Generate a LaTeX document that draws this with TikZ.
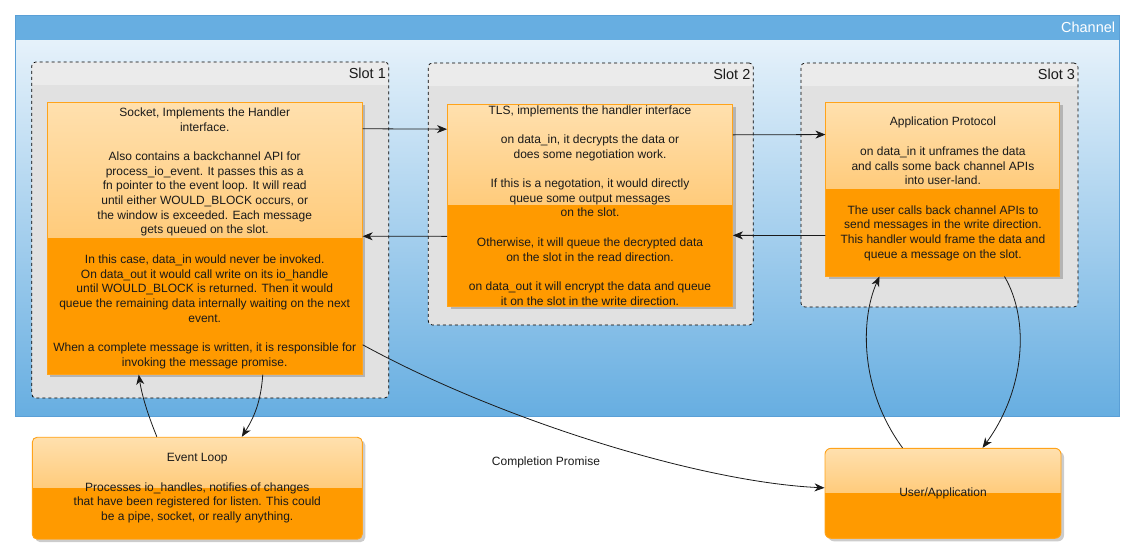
\documentclass[tikz,border=0pt]{standalone}
\usepackage{fontspec}
\setmainfont{Liberation Sans}
\usetikzlibrary{calc,arrows.meta,shadows}

\definecolor{chhead}{HTML}{67AEE1}
\definecolor{chtop}{HTML}{EEF6FC}
\definecolor{chedge}{HTML}{5A9FD6}
\definecolor{slothead}{HTML}{EBEBEB}
\definecolor{slotbody}{HTML}{E1E1E1}
\definecolor{ortop}{HTML}{FFE0AE}
\definecolor{ormid}{HTML}{FFB648}
\definecolor{orbot}{HTML}{FF9A00}
\definecolor{oredge}{HTML}{FFA31A}
\definecolor{ink}{HTML}{1A1A1A}

\tikzset{
  bodytext/.style={font=\fontsize{12}{14.7}\selectfont, text=ink},
  % glass-style orange handler box: gradient upper half, solid lower half
  handler/.style={draw=oredge, line width=0.9pt, inner sep=0pt, align=center, bodytext,
    drop shadow={shadow xshift=3pt, shadow yshift=-3pt, fill=black, opacity=0.2},
    path picture={
      \fill[sharp corners, top color=ortop, bottom color=ormid]
        (path picture bounding box.north west) rectangle (path picture bounding box.east);
      \fill[sharp corners, orbot]
        (path picture bounding box.west) rectangle (path picture bounding box.south east);
    }},
  slotbox/.style={draw=black, dashed, line width=0.7pt, rounded corners=4pt, inner sep=0pt,
    fill=slotbody,
    path picture={
      \fill[sharp corners, slothead] (path picture bounding box.north west)
        rectangle ([yshift=-23pt]path picture bounding box.north east);
    }},
  chanbox/.style={draw=chedge, line width=0.7pt, inner sep=0pt,
    path picture={
      \fill[top color=chtop, bottom color=chhead]
        ([yshift=-25pt]path picture bounding box.north west)
        rectangle (path picture bounding box.south east);
      \fill[chhead] (path picture bounding box.north west)
        rectangle ([yshift=-25pt]path picture bounding box.north east);
    }},
  grouplabel/.style={font=\fontsize{14.5}{16}\selectfont, inner sep=0pt, anchor=east},
  conn/.style={draw=ink, line width=0.8pt, -{Stealth[length=10pt,width=8pt,inset=3pt]}},
}

\begin{document}
\begin{tikzpicture}[x=1pt, y=-1pt]
\useasboundingbox (0,0) rectangle (1134,555);

% channel container
\node[chanbox, minimum width=1104pt, minimum height=401pt] (chan) at (567,215.5) {};
\node[grouplabel, text=white] (chanlab) at ($(chan.north east)+(-4,13)$) {Channel};

% slots
\node[slotbox, minimum width=357pt, minimum height=336pt] (slot1) at (210.2,230) {};
\node[grouplabel, text=ink] (slot1lab) at ($(slot1.north east)+(-3,12)$) {Slot 1};
\node[slotbox, minimum width=325pt, minimum height=262pt] (slot2) at (590.7,194) {};
\node[grouplabel, text=ink] (slot2lab) at ($(slot2.north east)+(-3,12)$) {Slot 2};
\node[slotbox, minimum width=277pt, minimum height=244pt] (slot3) at (939.4,185) {};
\node[grouplabel, text=ink] (slot3lab) at ($(slot3.north east)+(-3,12)$) {Slot 3};

% handlers
\node[handler, minimum width=315pt, minimum height=272pt] (sock) at (204.7,238.2) {%
Socket, Implements the Handler\\
interface.\\[14.7pt]
Also contains a backchannel API for\\
process\_io\_event. It passes this as a\\
fn pointer to the event loop. It will read\\
until either WOULD\_BLOCK occurs, or\\
the window is exceeded. Each message\\
gets queued on the slot.\\[14.7pt]
In this case, data\_in would never be invoked.\\
On data\_out it would call write on its io\_handle\\
until WOULD\_BLOCK is returned. Then it would\\
queue the remaining data internally waiting on the next\\
event.\\[14.7pt]
When a complete message is written, it is responsible for\\
invoking the message promise.};

\node[handler, minimum width=285pt, minimum height=202pt] (tls) at (590,205.3) {%
TLS, implements the handler interface\\[14.7pt]
on data\_in, it decrypts the data or\\
does some negotiation work.\\[14.7pt]
If this is a negotation, it would directly\\
queue some output messages\\
on the slot.\\[14.7pt]
Otherwise, it will queue the decrypted data\\
on the slot in the read direction.\\[14.7pt]
on data\_out it will encrypt the data and queue\\
it on the slot in the write direction.};

\node[handler, minimum width=234pt, minimum height=174pt] (app) at (942.9,189) {%
Application Protocol\\[14.7pt]
on data\_in it unframes the data\\
and calls some back channel APIs\\
into user-land.\\[14.7pt]
The user calls back channel APIs to\\
send messages in the write direction.\\
This handler would frame the data and\\
queue a message on the slot.};

% outside the channel
\node[handler, rounded corners=5pt, minimum width=330pt, minimum height=102pt] (evl) at (197.3,488.2) {%
Event Loop\\[14.7pt]
Processes io\_handles, notifies of changes\\
that have been registered for listen. This could\\
be a pipe, socket, or really anything.};

\node[handler, rounded corners=6pt, minimum width=236pt, minimum height=90pt] (usr) at (943,493.3) {%
User/Application};

% read / write path between handlers
\draw[conn] ($(sock.north east)+(0,27)$) -- ($(tls.north west)+(0,25.3)$);
\draw[conn] ($(tls.north east)+(0,31)$) -- ($(app.north west)+(0,33)$);
\draw[conn] ($(app.north west)+(0,134)$) -- ($(tls.north east)+(0,131.5)$);
\draw[conn] ($(tls.north west)+(0,132.5)$) -- ($(sock.north east)+(0,134.5)$);

% event loop <-> socket
\draw[conn] ($(evl.north west)+(125,0)$) .. controls (148,415) and (142,396) .. ($(sock.south west)+(92,0)$);
\draw[conn] ($(sock.south west)+(216,0)$) .. controls (261,400) and (255,416) .. ($(evl.north west)+(210,0)$);

% user <-> application protocol
\draw[conn] ($(usr.north west)+(78,0)$) .. controls (860,390) and (860,320) .. ($(app.south west)+(54,0)$);
\draw[conn] ($(app.south west)+(179,0)$) .. controls (1030,320) and (1025,390) .. ($(usr.north west)+(158,0)$);

% completion promise
\draw[conn] ($(sock.north east)+(0,243)$) .. controls (500,420) and (700,482) .. ($(usr.north west)+(0,40)$);
\node[bodytext, inner sep=0pt] (promlab) at (546,462) {Completion Promise};

\end{tikzpicture}
\end{document}
